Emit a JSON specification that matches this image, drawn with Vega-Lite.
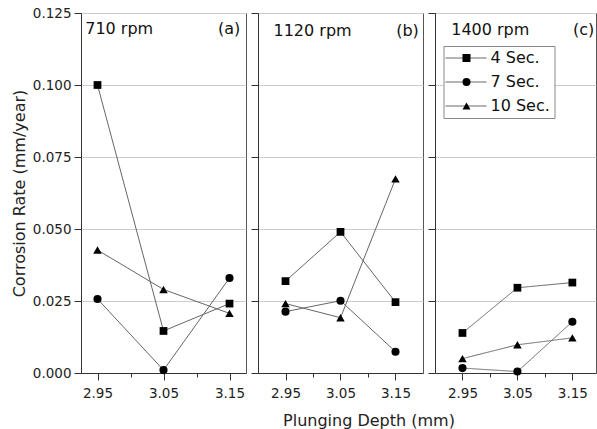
{
  "$schema": "https://vega.github.io/schema/vega-lite/v6.json",
  "background": "white",
  "padding": {"left": 10, "top": 5, "right": 0, "bottom": 0},
  "spacing": 12,
  "bounds": "flush",
  "config": {
    "font": "DejaVu Sans",
    "view": {"stroke": "#555", "strokeWidth": 1},
    "axis": {
      "labelFont": "DejaVu Sans", "labelFontSize": 13.5, "labelColor": "#222",
      "titleFont": "DejaVu Sans", "titleFontSize": 16, "titleFontWeight": "normal", "titleColor": "#222",
      "domainColor": "#333", "tickColor": "#333", "gridColor": "#cccccc",
      "labelFlush": false, "labelOverlap": false
    }
  },
  "resolve": {"legend": {"shape": "independent", "strokeDash": "independent"}},
  "datasets": {
    "rates": [
      {"rpm": 710, "depth": 2.95, "time": "4 Sec.", "rate": 0.100},
      {"rpm": 710, "depth": 3.05, "time": "4 Sec.", "rate": 0.0146},
      {"rpm": 710, "depth": 3.15, "time": "4 Sec.", "rate": 0.0241},
      {"rpm": 710, "depth": 2.95, "time": "7 Sec.", "rate": 0.0257},
      {"rpm": 710, "depth": 3.05, "time": "7 Sec.", "rate": 0.001},
      {"rpm": 710, "depth": 3.15, "time": "7 Sec.", "rate": 0.033},
      {"rpm": 710, "depth": 2.95, "time": "10 Sec.", "rate": 0.0427},
      {"rpm": 710, "depth": 3.05, "time": "10 Sec.", "rate": 0.029},
      {"rpm": 710, "depth": 3.15, "time": "10 Sec.", "rate": 0.0207},
      {"rpm": 1120, "depth": 2.95, "time": "4 Sec.", "rate": 0.0319},
      {"rpm": 1120, "depth": 3.05, "time": "4 Sec.", "rate": 0.049},
      {"rpm": 1120, "depth": 3.15, "time": "4 Sec.", "rate": 0.0246},
      {"rpm": 1120, "depth": 2.95, "time": "7 Sec.", "rate": 0.0213},
      {"rpm": 1120, "depth": 3.05, "time": "7 Sec.", "rate": 0.0251},
      {"rpm": 1120, "depth": 3.15, "time": "7 Sec.", "rate": 0.0074},
      {"rpm": 1120, "depth": 2.95, "time": "10 Sec.", "rate": 0.0241},
      {"rpm": 1120, "depth": 3.05, "time": "10 Sec.", "rate": 0.0192},
      {"rpm": 1120, "depth": 3.15, "time": "10 Sec.", "rate": 0.0674},
      {"rpm": 1400, "depth": 2.95, "time": "4 Sec.", "rate": 0.0139},
      {"rpm": 1400, "depth": 3.05, "time": "4 Sec.", "rate": 0.0296},
      {"rpm": 1400, "depth": 3.15, "time": "4 Sec.", "rate": 0.0314},
      {"rpm": 1400, "depth": 2.95, "time": "7 Sec.", "rate": 0.0017},
      {"rpm": 1400, "depth": 3.05, "time": "7 Sec.", "rate": 0.0005},
      {"rpm": 1400, "depth": 3.15, "time": "7 Sec.", "rate": 0.0178},
      {"rpm": 1400, "depth": 2.95, "time": "10 Sec.", "rate": 0.005},
      {"rpm": 1400, "depth": 3.05, "time": "10 Sec.", "rate": 0.0098},
      {"rpm": 1400, "depth": 3.15, "time": "10 Sec.", "rate": 0.0122}
    ],
    "panels": [
      {"rpm": 710, "label": "710 rpm", "tag": "(a)"},
      {"rpm": 1120, "label": "1120 rpm", "tag": "(b)"},
      {"rpm": 1400, "label": "1400 rpm", "tag": "(c)"}
    ]
  },
  "hconcat": [
    {
      "width": 165, "height": 360,
      "layer": [
        {
          "data": {"name": "rates"},
          "transform": [{"filter": "datum.rpm == 710"}],
          "mark": {"type": "line", "color": "#666", "strokeWidth": 1},
          "encoding": {
            "x": {"field": "depth", "type": "quantitative", "scale": {"domain": [2.925, 3.175], "nice": false, "zero": false},
              "axis": {"title": null, "values": [2.95, 3.0, 3.05, 3.1, 3.15], "grid": false, "labelPadding": 6,
                "labelExpr": "abs(datum.value*10 - round(datum.value*10)) > 0.25 ? format(datum.value, '.2f') : ''",
                "tickSize": {"condition": {"test": "abs(datum.value*10 - round(datum.value*10)) > 0.25", "value": 7}, "value": 4}}},
            "y": {"field": "rate", "type": "quantitative", "scale": {"domain": [0, 0.125], "nice": false, "zero": true},
              "axis": {"title": "Corrosion Rate (mm/year)", "titlePadding": 5, "labelPadding": 3,
                "values": [0, 0.0125, 0.025, 0.0375, 0.05, 0.0625, 0.075, 0.0875, 0.1, 0.1125, 0.125],
                "labelExpr": "abs(datum.value*40 - round(datum.value*40)) < 0.01 ? format(datum.value, '.3f') : ''",
                "tickSize": {"condition": {"test": "abs(datum.value*40 - round(datum.value*40)) < 0.01", "value": 7}, "value": 4},
                "gridOpacity": {"condition": {"test": "abs(datum.value*40 - round(datum.value*40)) < 0.01", "value": 1}, "value": 0}}},
            "detail": {"field": "time"}
          }
        },
        {
          "data": {"name": "rates"},
          "transform": [{"filter": "datum.rpm == 710"}],
          "mark": {"type": "point", "filled": true, "color": "black", "opacity": 1},
          "encoding": {
            "x": {"field": "depth", "type": "quantitative"},
            "y": {"field": "rate", "type": "quantitative"},
            "shape": {"field": "time", "type": "nominal", "scale": {"domain": ["4 Sec.", "7 Sec.", "10 Sec."], "range": ["square", "circle", "triangle-up"]}, "legend": null},
            "size": {"field": "time", "type": "nominal", "scale": {"domain": ["4 Sec.", "7 Sec.", "10 Sec."], "range": [60, 72, 100]}, "legend": null}
          }
        },
        {
          "data": {"name": "panels"},
          "transform": [{"filter": "datum.rpm == 710"}],
          "mark": {"type": "text", "align": "left", "baseline": "middle", "fontSize": 16, "font": "DejaVu Sans", "color": "#111"},
          "encoding": {
            "x": {"datum": 2.9314, "type": "quantitative"},
            "y": {"datum": 0.1194, "type": "quantitative"},
            "text": {"field": "label"}
          }
        },
        {
          "data": {"name": "panels"},
          "transform": [{"filter": "datum.rpm == 710"}],
          "mark": {"type": "text", "align": "right", "baseline": "middle", "fontSize": 16, "font": "DejaVu Sans", "color": "#111"},
          "encoding": {
            "x": {"datum": 3.1662, "type": "quantitative"},
            "y": {"datum": 0.1194, "type": "quantitative"},
            "text": {"field": "tag"}
          }
        }
      ]
    },
    {
      "width": 165, "height": 360,
      "layer": [
        {
          "data": {"name": "rates"},
          "transform": [{"filter": "datum.rpm == 1120"}],
          "mark": {"type": "line", "color": "#666", "strokeWidth": 1},
          "encoding": {
            "x": {"field": "depth", "type": "quantitative", "scale": {"domain": [2.9, 3.2], "nice": false, "zero": false},
              "axis": {"title": "Plunging Depth (mm)", "titleX": 110.5, "titleY": 39, "titleBaseline": "top", "titleAlign": "center",
                "values": [2.95, 3.0, 3.05, 3.1, 3.15], "grid": false, "labelPadding": 6,
                "labelExpr": "abs(datum.value*10 - round(datum.value*10)) > 0.25 ? format(datum.value, '.2f') : ''",
                "tickSize": {"condition": {"test": "abs(datum.value*10 - round(datum.value*10)) > 0.25", "value": 7}, "value": 4}}},
            "y": {"field": "rate", "type": "quantitative", "scale": {"domain": [0, 0.125], "nice": false, "zero": true},
              "axis": {"title": null, "labels": false,
                "values": [0, 0.0125, 0.025, 0.0375, 0.05, 0.0625, 0.075, 0.0875, 0.1, 0.1125, 0.125],
                "tickSize": {"condition": {"test": "abs(datum.value*40 - round(datum.value*40)) < 0.01", "value": 7}, "value": 4},
                "gridOpacity": {"condition": {"test": "abs(datum.value*40 - round(datum.value*40)) < 0.01", "value": 1}, "value": 0}}},
            "detail": {"field": "time"}
          }
        },
        {
          "data": {"name": "rates"},
          "transform": [{"filter": "datum.rpm == 1120"}],
          "mark": {"type": "point", "filled": true, "color": "black", "opacity": 1},
          "encoding": {
            "x": {"field": "depth", "type": "quantitative"},
            "y": {"field": "rate", "type": "quantitative"},
            "shape": {"field": "time", "type": "nominal", "scale": {"domain": ["4 Sec.", "7 Sec.", "10 Sec."], "range": ["square", "circle", "triangle-up"]}, "legend": null},
            "size": {"field": "time", "type": "nominal", "scale": {"domain": ["4 Sec.", "7 Sec.", "10 Sec."], "range": [60, 72, 100]}, "legend": null}
          }
        },
        {
          "data": {"name": "panels"},
          "transform": [{"filter": "datum.rpm == 1120"}],
          "mark": {"type": "text", "align": "left", "baseline": "middle", "fontSize": 16, "font": "DejaVu Sans", "color": "#111"},
          "encoding": {
            "x": {"datum": 2.9282, "type": "quantitative"},
            "y": {"datum": 0.1188, "type": "quantitative"},
            "text": {"field": "label"}
          }
        },
        {
          "data": {"name": "panels"},
          "transform": [{"filter": "datum.rpm == 1120"}],
          "mark": {"type": "text", "align": "right", "baseline": "middle", "fontSize": 16, "font": "DejaVu Sans", "color": "#111"},
          "encoding": {
            "x": {"datum": 3.1924, "type": "quantitative"},
            "y": {"datum": 0.1188, "type": "quantitative"},
            "text": {"field": "tag"}
          }
        }
      ]
    },
    {
      "width": 161, "height": 360,
      "resolve": {"legend": {"shape": "independent", "strokeDash": "independent"}},
      "layer": [
        {
          "data": {"name": "rates"},
          "transform": [{"filter": "datum.rpm == 1400"}],
          "mark": {"type": "line", "color": "#666", "strokeWidth": 1},
          "encoding": {
            "x": {"field": "depth", "type": "quantitative", "scale": {"domain": [2.9, 3.193], "nice": false, "zero": false},
              "axis": {"title": null, "values": [2.95, 3.0, 3.05, 3.1, 3.15], "grid": false, "labelPadding": 6,
                "labelExpr": "abs(datum.value*10 - round(datum.value*10)) > 0.25 ? format(datum.value, '.2f') : ''",
                "tickSize": {"condition": {"test": "abs(datum.value*10 - round(datum.value*10)) > 0.25", "value": 7}, "value": 4}}},
            "y": {"field": "rate", "type": "quantitative", "scale": {"domain": [0, 0.125], "nice": false, "zero": true},
              "axis": {"title": null, "labels": false,
                "values": [0, 0.0125, 0.025, 0.0375, 0.05, 0.0625, 0.075, 0.0875, 0.1, 0.1125, 0.125],
                "tickSize": {"condition": {"test": "abs(datum.value*40 - round(datum.value*40)) < 0.01", "value": 7}, "value": 4},
                "gridOpacity": {"condition": {"test": "abs(datum.value*40 - round(datum.value*40)) < 0.01", "value": 1}, "value": 0}}},
            "strokeDash": {"field": "time", "type": "nominal",
              "scale": {"domain": ["4 Sec.", "7 Sec.", "10 Sec."], "range": [[1, 0], [1, 0], [1, 0]]},
              "legend": {"orient": "none", "legendX": 8.5, "legendY": 33, "title": null,
                "fillColor": "white", "padding": 4,
                "symbolType": "M-2,0H6.2", "symbolSize": 100, "labelOffset": 27,
                "labelFontSize": 16, "labelFont": "DejaVu Sans", "labelOpacity": 0, "rowPadding": 8,
                "symbolStrokeColor": "#555", "symbolStrokeWidth": 1, "symbolOpacity": 1}}
          }
        },
        {
          "data": {"name": "rates"},
          "transform": [{"filter": "datum.rpm == 1400"}],
          "mark": {"type": "point", "filled": true, "color": "black", "opacity": 1},
          "encoding": {
            "x": {"field": "depth", "type": "quantitative"},
            "y": {"field": "rate", "type": "quantitative"},
            "shape": {"field": "time", "type": "nominal", "scale": {"domain": ["4 Sec.", "7 Sec.", "10 Sec."], "range": ["square", "circle", "triangle-up"]},
              "legend": {"orient": "none", "legendX": 8.5, "legendY": 33, "title": null,
                "strokeColor": "#888", "padding": 4,
                "symbolSize": 64, "symbolOffset": 11, "labelOffset": 16,
                "labelFontSize": 16, "labelFont": "DejaVu Sans", "labelColor": "#111", "rowPadding": 8,
                "symbolOpacity": 1, "symbolFillColor": "black"}},
            "size": {"field": "time", "type": "nominal", "scale": {"domain": ["4 Sec.", "7 Sec.", "10 Sec."], "range": [60, 72, 100]}, "legend": null}
          }
        },
        {
          "data": {"name": "panels"},
          "transform": [{"filter": "datum.rpm == 1400"}],
          "mark": {"type": "text", "align": "left", "baseline": "middle", "fontSize": 16, "font": "DejaVu Sans", "color": "#111"},
          "encoding": {
            "x": {"datum": 2.9295, "type": "quantitative"},
            "y": {"datum": 0.1191, "type": "quantitative"},
            "text": {"field": "label"}
          }
        },
        {
          "data": {"name": "panels"},
          "transform": [{"filter": "datum.rpm == 1400"}],
          "mark": {"type": "text", "align": "right", "baseline": "middle", "fontSize": 16, "font": "DejaVu Sans", "color": "#111"},
          "encoding": {
            "x": {"datum": 3.19, "type": "quantitative"},
            "y": {"datum": 0.1191, "type": "quantitative"},
            "text": {"field": "tag"}
          }
        }
      ]
    }
  ]
}
